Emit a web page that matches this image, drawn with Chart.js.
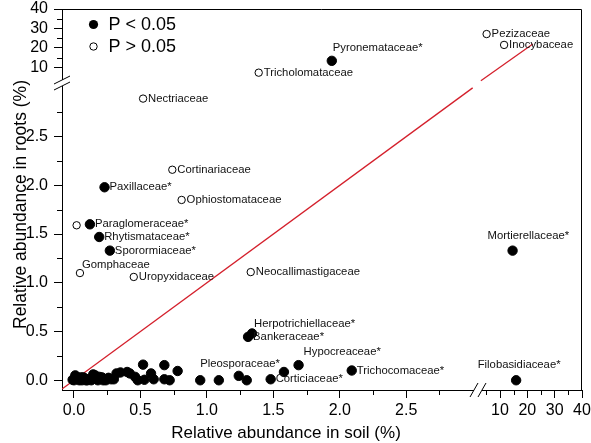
<!DOCTYPE html>
<html><head><meta charset="utf-8">
<script src="https://cdn.jsdelivr.net/npm/chart.js@4.4.1/dist/chart.umd.min.js"></script>
<style>html,body{margin:0;padding:0;background:#fff;}canvas{display:block;}</style>
</head><body>
<canvas id="c" width="591" height="443"></canvas>
<script>
// ---- data (relative abundance, %) ----
const families = ['Pyronemataceae*','Tricholomataceae','Pezizaceae','Inocybaceae','Nectriaceae','Cortinariaceae',
  'Paxillaceae*','Ophiostomataceae','Paraglomeraceae*','Rhytismataceae*','Sporormiaceae*','Gomphaceae',
  'Uropyxidaceae','Neocallimastigaceae','Mortierellaceae*','Herpotrichiellaceae*','Bankeraceae*','Hypocreaceae*',
  'Pleosporaceae*','Corticiaceae*','Trichocomaceae*','Filobasidiaceae*'];
const soilPct = [1.94,1.39,5.1,11.5,0.52,0.74,0.23,0.81,0.12,0.19,0.27,0.045,0.45,1.33,14.6,1.34,1.31,1.69,1.58,1.48,2.09,15.9];
const rootPct = [13.3,7.2,27.1,21.5,2.89,2.16,1.98,1.85,1.60,1.47,1.33,1.10,1.06,1.11,1.33,0.48,0.445,0.155,0.085,0.01,0.10,0.0];
const isSignificant = [true,false,false,false,false,false,true,false,true,true,true,false,false,false,true,true,true,true,true,true,true,true];
// unlabelled families
const otherSignifSoil = [-0.01,0.0,0.01,0.02,0.03,0.04,0.05,0.06,0.07,0.08,0.09,0.10,0.11,0.13,0.145,0.16,0.18,0.19,0.21,0.22,0.24,0.26,0.28,0.30,0.32,0.35,0.40,0.42,0.46,0.48,0.52,0.53,0.58,0.60,0.68,0.68,0.72,0.78,0.95,1.09,1.24,1.30];
const otherSignifRoot = [0.005,0.0,0.05,0.02,0.01,0.0,0.03,0.0,0.03,0.02,0.0,0.0,0.01,0.0,0.06,0.05,0.0,0.035,0.03,0.0,0.0,0.025,0.01,0.01,0.07,0.08,0.085,0.07,0.035,0.0,0.16,0.005,0.07,0.01,0.155,0.01,0.0,0.095,0.0,0.0,0.045,0.0];
const otherNonSignifSoil = [0.02];
const otherNonSignifRoot = [1.59];
// 1:1 reference line
const oneToOneLow = [-0.09, 3.0];
const oneToOneHigh = [3.0, 22.0];
// tick labels
const lowTickLabels = ['0.0','0.5','1.0','1.5','2.0','2.5'];
const highTickLabels = ['10','20','30','40'];
const legendLabels = ['P < 0.05','P > 0.05'];
const xTitle = 'Relative abundance in soil (%)';
const yTitle = 'Relative abundance in roots (%)';

// ---- axis segments (broken axes) ----
const xLowRange = [-0.09, 3.04], xHighRange = [1.95, 40];
const yLowRange = [-0.1, 3.05], yHighRange = [1.88, 40];
const breakAt = 3.05;

const labelPlacement = {
  'Pyronemataceae*': [1,-13,'left'], 'Mortierellaceae*': [-25,-15,'left'], 'Filobasidiaceae*': [3,-15,'center'],
  'Herpotrichiellaceae*': [2,-10,'left'], 'Hypocreaceae*': [5,-13,'left'], 'Pleosporaceae*': [-4,-8,'right'],
  'Gomphaceae': [2,-8,'left']
};

const FONT = '"Liberation Sans", Arial, Helvetica, sans-serif';

// group points into quadrant datasets
const groups = {};
function addPoint(x, y, name, sig) {
  const xa = x > breakAt ? 'xHigh' : 'xLow';
  const ya = y > breakAt ? 'yHigh' : 'yLow';
  const key = xa + '|' + ya + '|' + sig;
  if (!groups[key]) groups[key] = {xAxisID: xa, yAxisID: ya, sig, data: []};
  groups[key].data.push({x, y, name});
}
families.forEach((n, i) => addPoint(soilPct[i], rootPct[i], n, isSignificant[i]));
otherSignifSoil.forEach((x, i) => addPoint(x, otherSignifRoot[i], null, true));
otherNonSignifSoil.forEach((x, i) => addPoint(x, otherNonSignifRoot[i], null, false));

const datasets = Object.values(groups).map(g => ({
  type: 'scatter', xAxisID: g.xAxisID, yAxisID: g.yAxisID, data: g.data, order: 1,
  pointRadius: g.sig ? 4.7 : 3.7, pointBackgroundColor: g.sig ? '#000' : '#fff',
  pointBorderColor: '#000', pointBorderWidth: 1, isLabelled: true
}));
const RED = '#d4202c';
datasets.unshift({type:'scatter', showLine:true, xAxisID:'xLow', yAxisID:'yLow', order: 5,
  data: oneToOneLow.map(v => ({x:v, y:v})), borderColor: RED, borderWidth: 1.3, pointRadius: 0});
datasets.unshift({type:'scatter', showLine:true, xAxisID:'xHigh', yAxisID:'yHigh', order: 5,
  data: oneToOneHigh.map(v => ({x:v, y:v})), borderColor: RED, borderWidth: 1.3, pointRadius: 0});

function isMajorLow(v){ return Math.abs(v*2 - Math.round(v*2)) < 1e-6; }
function isMajorHigh(v){ return Math.abs(v/10 - Math.round(v/10)) < 1e-6; }
function noPad(s){ s.paddingLeft = s.paddingRight = s.paddingTop = s.paddingBottom = 0; }

function makeScale(horizontal, range, step, low, weight, stackWeight) {
  return {
    type: 'linear', position: horizontal ? 'bottom' : 'left', stack: horizontal ? 'xs' : 'ys',
    stackWeight, weight, min: range[0], max: range[1],
    ticks: {
      stepSize: step, autoSkip: false, maxRotation: 0, includeBounds: false, color: '#000',
      font: {family: FONT, size: 16}, padding: horizontal ? 3 : 6,
      callback: (v) => {
        if (low) { const s = v.toFixed(1); return isMajorLow(v) && lowTickLabels.includes(s) ? s : ''; }
        const s = String(Math.round(v)); return isMajorHigh(v) && highTickLabels.includes(s) ? s : '';
      }
    },
    afterBuildTicks: (s) => {
      s.ticks = s.ticks.filter(t => low ? (t.value >= -1e-9 && t.value <= 2.76) : (horizontal ? t.value >= 5 : t.value >= 10));
    },
    grid: {display: true, drawOnChartArea: false, drawTicks: true, tickLength: 8, tickWidth: 1,
      tickColor: (ctx) => (ctx.tick && ctx.tick.label !== '') ? '#000' : 'rgba(0,0,0,0)'},
    border: {display: true, color: '#000', width: 1},
    afterFit: (s) => { if (horizontal) s.height = 53; else s.width = 62; noPad(s); }
  };
}

const decorations = {
  id: 'decorations',
  afterDatasetsDraw(chart) {
    const ctx = chart.ctx;
    ctx.save();
    ctx.font = '11.3px ' + FONT; ctx.fillStyle = '#111'; ctx.textBaseline = 'middle';
    chart.data.datasets.forEach((ds, di) => {
      if (!ds.isLabelled) return;
      const meta = chart.getDatasetMeta(di);
      ds.data.forEach((p, i) => {
        if (!p.name) return;
        const el = meta.data[i];
        const pl = labelPlacement[p.name] || [5, 0, 'left'];
        ctx.textAlign = pl[2];
        ctx.fillText(p.name, el.x + pl[0], el.y + pl[1]);
      });
    });
    ctx.restore();
  },
  afterDraw(chart) {
    const ctx = chart.ctx, ca = chart.chartArea;
    ctx.save();
    ctx.strokeStyle = '#000'; ctx.lineWidth = 1;
    // top & right frame
    ctx.beginPath();
    ctx.moveTo(ca.left, ca.top + 0.5); ctx.lineTo(ca.right - 0.5, ca.top + 0.5); ctx.lineTo(ca.right - 0.5, ca.bottom);
    ctx.stroke();
    // minor ticks
    ['xLow','xHigh','yLow','yHigh'].forEach(id => {
      const s = chart.scales[id];
      s.ticks.forEach(t => {
        if (t.label !== '') return;
        const p = Math.round(s.getPixelForValue(t.value)) + 0.5;
        ctx.beginPath();
        if (s.isHorizontal()) { ctx.moveTo(p, ca.bottom); ctx.lineTo(p, ca.bottom + 5); }
        else { ctx.moveTo(ca.left, p); ctx.lineTo(ca.left - 5, p); }
        ctx.stroke();
      });
    });
    // axis breaks
    const yb = chart.scales.yHigh.bottom, xl = ca.left;
    ctx.fillStyle = '#fff'; ctx.fillRect(xl - 2, yb - 3, 4, 6);
    ctx.beginPath();
    [-3, 3].forEach(o => { ctx.moveTo(xl - 8, yb + o + 4); ctx.lineTo(xl + 8, yb + o - 4); });
    ctx.stroke();
    const xb = chart.scales.xLow.right, yl = ca.bottom;
    ctx.fillRect(xb - 4, yl - 2, 8, 4);
    ctx.beginPath();
    [-4, 4].forEach(o => { ctx.moveTo(xb + o - 4, yl + 7); ctx.lineTo(xb + o + 4, yl - 7); });
    ctx.stroke();
    // legend
    const lx = ca.left + 31.5;
    const ly = [ca.top + 15.5, ca.top + 37.5];
    ctx.fillStyle = '#000';
    ctx.beginPath(); ctx.arc(lx, ly[0], 4.6, 0, Math.PI * 2); ctx.fill();
    ctx.fillStyle = '#fff';
    ctx.beginPath(); ctx.arc(lx, ly[1], 3.7, 0, Math.PI * 2); ctx.fill(); ctx.stroke();
    ctx.fillStyle = '#000'; ctx.font = '18px ' + FONT; ctx.textAlign = 'left'; ctx.textBaseline = 'middle';
    ctx.fillText(legendLabels[0], lx + 15, ly[0] + 1);
    ctx.fillText(legendLabels[1], lx + 15, ly[1] + 1);
    // axis titles
    ctx.font = '17px ' + FONT; ctx.textAlign = 'center';
    ctx.fillText(xTitle, ca.left + 224, ca.bottom + 43);
    ctx.translate(ca.left - 41, (ca.top + ca.bottom) / 2 + 5);
    ctx.rotate(-Math.PI / 2);
    ctx.font = '17.5px ' + FONT;
    ctx.fillText(yTitle, 0, 0);
    ctx.restore();
  }
};

new Chart(document.getElementById('c'), {
  data: {datasets},
  options: {
    responsive: false, animation: false, devicePixelRatio: 1,
    layout: {padding: {top: 9, right: 9, left: 0, bottom: 0}, autoPadding: false},
    plugins: {legend: {display: false}, tooltip: {enabled: false}},
    scales: {
      xLow: makeScale(true, xLowRange, 0.25, true, 0, 416),
      xHigh: makeScale(true, xHighRange, 5, false, 0, 104),
      yLow: makeScale(false, yLowRange, 0.25, true, 0, 307),
      yHigh: makeScale(false, yHighRange, 5, false, 1, 74)
    }
  },
  plugins: [decorations]
});
</script>
</body></html>
